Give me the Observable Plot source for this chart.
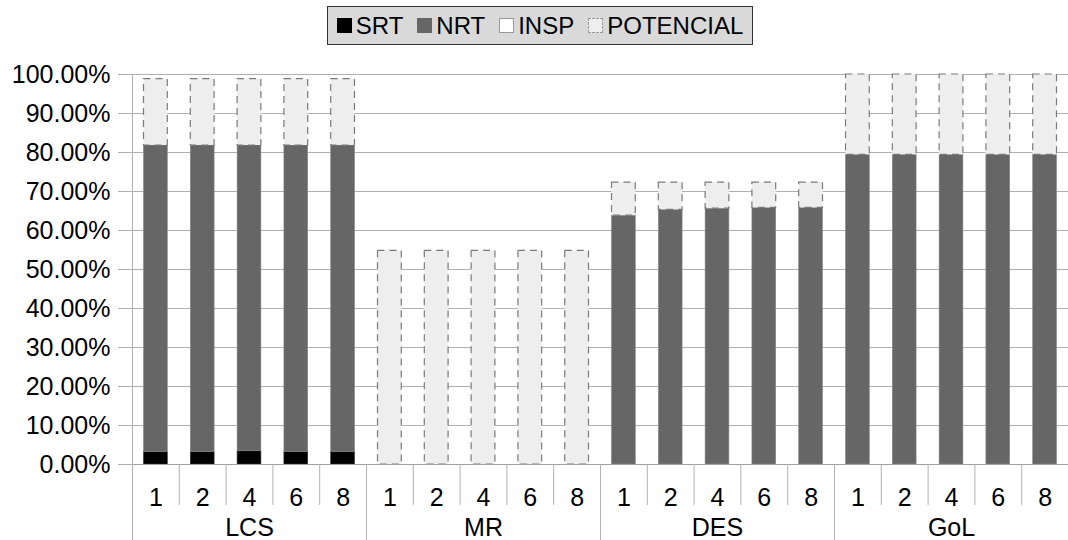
<!DOCTYPE html>
<html>
<head>
<meta charset="utf-8">
<script src="https://cdn.jsdelivr.net/npm/d3@7"></script>
<script src="https://cdn.jsdelivr.net/npm/@observablehq/plot@0.6"></script>
<style>
  body { margin: 0; background: #fff; font-family: "Liberation Sans", Arial, sans-serif; }
  #wrap { position: relative; width: 1068px; height: 540px; }
  #legend { position: absolute; left: 327px; top: 6px; height: 39px; width: 426px; box-sizing: border-box;
            background: #d9d9d9; border: 1.5px solid #333; display: flex; align-items: center; justify-content: center;
            font-size: 24px; color: #000; gap: 0; }
  .item { display: flex; align-items: center; margin: 0 7px; }
  .sw { width: 15px; height: 15px; box-sizing: border-box; margin-right: 4px; }
  #chart { position: absolute; left: 0; top: 60px; }
</style>
</head>
<body>
<div id="wrap">
  <div id="legend"></div>
  <div id="chart"></div>
</div>
<script>
const groups = ["LCS", "MR", "DES", "GoL"];
const threads = ["1", "2", "4", "6", "8"];
const seriesNames = ["SRT", "NRT", "INSP", "POTENCIAL"];
// values in percent, per bar (group-major, thread-minor)
const srt = [3.2, 3.2, 3.4, 3.2, 3.2,  0, 0, 0, 0, 0,  0, 0, 0, 0, 0,  0, 0, 0, 0, 0];
const nrt = [78.6, 78.6, 78.4, 78.6, 78.6,  0, 0, 0, 0, 0,  63.8, 65.3, 65.6, 65.8, 65.8,  79.4, 79.4, 79.4, 79.4, 79.4];
const insp = [0, 0, 0, 0, 0,  0, 0, 0, 0, 0,  0, 0, 0, 0, 0,  0, 0, 0, 0, 0];
const potencial = [17.0, 17.0, 17.0, 17.0, 17.0,  54.8, 54.8, 54.8, 54.8, 54.8,  8.5, 7.0, 6.7, 6.5, 6.5,  20.6, 20.6, 20.6, 20.6, 20.6];
const yTicks = [0, 10, 20, 30, 40, 50, 60, 70, 80, 90, 100];

const fills = {SRT: "#000000", NRT: "#666666", INSP: "#ffffff", POTENCIAL: "#eeeeee"};
const strokes = {SRT: "#333333", NRT: "#888888", INSP: "#888888", POTENCIAL: "#7a7a7a"};

// legend
const leg = document.getElementById("legend");
for (const s of seriesNames) {
  const it = document.createElement("div"); it.className = "item";
  const sw = document.createElement("div"); sw.className = "sw";
  sw.style.background = fills[s];
  sw.style.border = s === "POTENCIAL" ? "1px dashed #999" : (s === "INSP" ? "1px solid #999" : "none");
  const tx = document.createElement("span"); tx.textContent = s;
  it.appendChild(sw); it.appendChild(tx); leg.appendChild(it);
}

// build stacked segments
const seriesVals = {SRT: srt, NRT: nrt, INSP: insp, POTENCIAL: potencial};
const segs = [];
const bars = [];
groups.forEach((g, gi) => threads.forEach((t, ti) => {
  const i = gi * threads.length + ti;
  bars.push({i, g, t});
  let acc = 0;
  for (const s of seriesNames) {
    const v = seriesVals[s][i];
    if (v > 0) segs.push({i, s, y1: acc, y2: acc + v});
    acc += v;
  }
}));
const nBars = bars.length;
const seps = d3.range(nBars + 1).map(k => ({k, long: k % threads.length === 0}));
const groupLabels = groups.map((g, gi) => ({g, xc: gi * threads.length + threads.length / 2}));

const fontSize = 25;
const chart = Plot.plot({
  width: 1068,
  height: 480,
  marginLeft: 132,
  marginRight: 0,
  marginTop: 14,
  marginBottom: 76,
  style: {fontFamily: "'Liberation Sans', Arial, sans-serif", fontSize: fontSize + "px", background: "transparent"},
  x: {domain: [0, nBars], axis: null},
  y: {domain: [0, 100], axis: null},
  marks: [
    Plot.gridY(yTicks, {stroke: "#b0b0b0", strokeOpacity: 1}),
    Plot.axisY(yTicks, {tickSize: 14, tickPadding: 8, stroke: "#b0b0b0", fill: "#000", fontSize: fontSize,
                        tickFormat: d => d.toFixed(2) + "%"}),
    Plot.rect(segs.filter(d => d.s !== "POTENCIAL" && d.s !== "INSP"), {
      x1: d => d.i, x2: d => d.i + 1, y1: "y1", y2: "y2",
      insetLeft: 11.5, insetRight: 11.5,
      fill: d => fills[d.s], stroke: d => strokes[d.s], strokeWidth: 0.6
    }),
    Plot.rect(segs.filter(d => d.s === "INSP"), {
      x1: d => d.i, x2: d => d.i + 1, y1: "y1", y2: "y2",
      insetLeft: 11.5, insetRight: 11.5, fill: fills.INSP, stroke: strokes.INSP
    }),
    Plot.rect(segs.filter(d => d.s === "POTENCIAL"), {
      x1: d => d.i, x2: d => d.i + 1, y1: "y1", y2: "y2",
      insetLeft: 11.5, insetRight: 11.5,
      fill: fills.POTENCIAL, stroke: strokes.POTENCIAL, strokeWidth: 1.2, strokeDasharray: "7,5"
    }),
    Plot.ruleY([0], {stroke: "#a0a0a0"}),
    Plot.ruleX([0], {stroke: "#b0b0b0"}),
    Plot.ruleX(seps, {x: "k", y1: 0, y2: d => d.long ? -19.5 : -10.5, stroke: "#b0b0b0", clip: false}),
    Plot.text(bars, {x: d => d.i + 0.5, y: -8.7, text: "t", fill: "#000", fontSize: fontSize}),
    Plot.text(groupLabels, {x: "xc", y: -16.3, text: "g", fill: "#000", fontSize: fontSize})
  ]
});
document.getElementById("chart").appendChild(chart);
</script>
</body>
</html>
